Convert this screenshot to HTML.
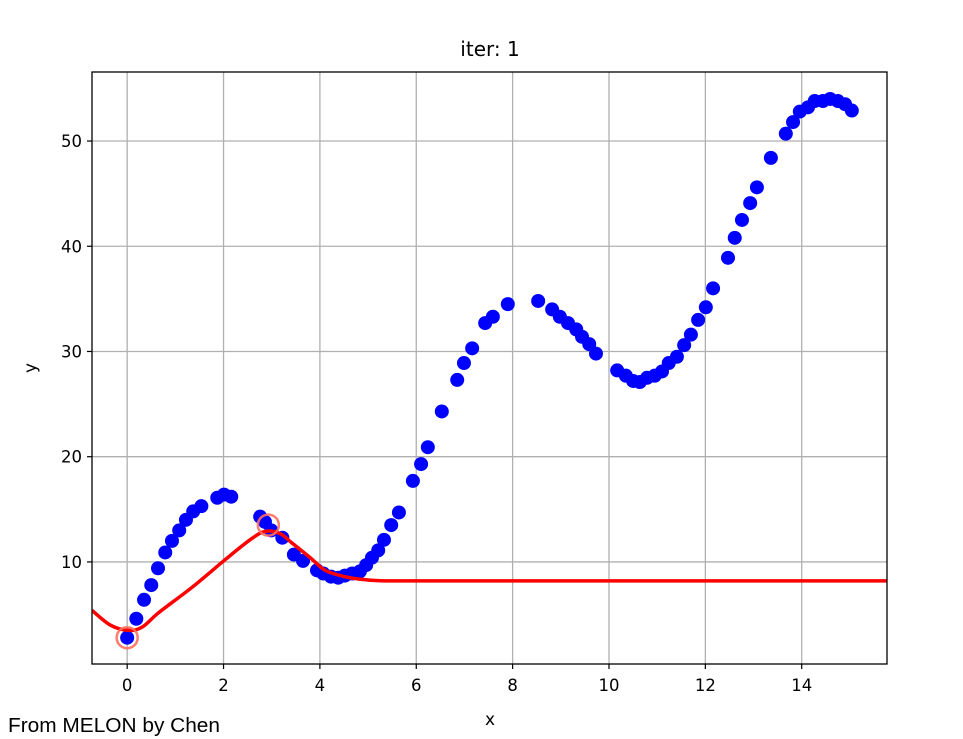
<!DOCTYPE html>
<html><head><meta charset="utf-8"><style>
html,body{margin:0;padding:0;background:#fff;}
svg{display:block;font-family:"DejaVu Sans","Liberation Sans",sans-serif;}
</style></head><body>
<svg id="chart" width="963" height="739" viewBox="0 0 963 739">
<rect x="0" y="0" width="963" height="739" fill="#fff"/>
<text x="490" y="56" text-anchor="middle" font-size="20" fill="#000">iter: 1</text>
<g id="grid"></g>
<g id="marks"></g>
<rect x="92" y="72" width="795" height="592" fill="none" stroke="#000" stroke-width="1.3"/>
<g id="ticks"></g>
<text x="490" y="725" text-anchor="middle" font-size="17">x</text>
<text x="36" y="368" text-anchor="middle" font-size="17" transform="rotate(-90 36 368)">y</text>
<text x="8" y="732" font-size="20" textLength="212" lengthAdjust="spacingAndGlyphs" font-family="Liberation Sans, sans-serif">From MELON by Chen</text>
</svg>
<script>
const xTicks=[0,2,4,6,8,10,12,14];
const yTicks=[10,20,30,40,50];
const obsX=[0,0.19,0.35,0.5,0.64,0.79,0.93,1.08,1.22,1.37,1.54,1.87,2.01,2.16,2.76,2.86,2.99,3.22,3.46,3.65,3.94,4.07,4.23,4.38,4.52,4.67,4.83,4.96,5.08,5.21,5.33,5.48,5.64,5.93,6.1,6.24,6.53,6.85,6.99,7.16,7.43,7.59,7.9,8.53,8.82,8.98,9.15,9.32,9.44,9.59,9.73,10.17,10.35,10.5,10.64,10.79,10.95,11.1,11.24,11.41,11.56,11.7,11.85,12.01,12.16,12.47,12.61,12.76,12.93,13.07,13.36,13.67,13.82,13.96,14.13,14.27,14.44,14.59,14.75,14.9,15.04];
const obsY=[2.8,4.6,6.4,7.8,9.4,10.9,12.0,13.0,14.0,14.8,15.3,16.1,16.4,16.2,14.3,13.8,13.0,12.3,10.7,10.1,9.2,8.9,8.6,8.5,8.7,8.9,9.1,9.7,10.4,11.1,12.1,13.5,14.7,17.7,19.3,20.9,24.3,27.3,28.9,30.3,32.7,33.3,34.5,34.8,34.0,33.3,32.7,32.1,31.4,30.7,29.8,28.2,27.7,27.2,27.1,27.5,27.7,28.1,28.9,29.5,30.6,31.6,33.0,34.2,36.0,38.9,40.8,42.5,44.1,45.6,48.4,50.7,51.8,52.8,53.2,53.8,53.8,54.0,53.8,53.5,52.9];
const meanX=[-0.73,-0.35,0.02,0.31,0.66,1.35,2.03,2.55,2.86,3.17,3.42,3.8,4.11,4.52,4.85,5.2,5.6,6.5,10,15.77];
const meanY=[5.4,4.0,3.5,3.8,5.2,7.6,10.2,12.1,12.9,12.7,11.8,10.4,9.2,8.6,8.35,8.22,8.2,8.2,8.2,8.2];
const sampledX=[0,2.93];
const sampledY=[2.8,13.5];

const X0=-0.73,X1=15.77,Y0=0.3,Y1=56.56,L=92,R=887,T=72,B=664;
const sx=v=>L+(v-X0)/(X1-X0)*(R-L);
const sy=v=>B-(v-Y0)/(Y1-Y0)*(B-T);
const NS='http://www.w3.org/2000/svg';
function mk(t,a,p){const e=document.createElementNS(NS,t);for(const k in a)e.setAttribute(k,a[k]);p.appendChild(e);return e;}
const grid=document.getElementById('grid'),marks=document.getElementById('marks'),ticks=document.getElementById('ticks');
xTicks.forEach(v=>{
  const g=mk('line',{x1:sx(v),x2:sx(v),y1:T,y2:B,stroke:'#b0b0b0','stroke-width':1.3},grid);
  
  
  const t=mk('line',{x1:sx(v),x2:sx(v),y1:B,y2:B+5,stroke:'#000','stroke-width':1.2},ticks);
  
  
  const l=mk('text',{x:sx(v),y:B+27,'text-anchor':'middle','font-size':16.5},ticks);
  l.textContent=v;
  
  
});
yTicks.forEach(v=>{
  const g=mk('line',{x1:L,x2:R,y1:sy(v),y2:sy(v),stroke:'#b0b0b0','stroke-width':1.3},grid);
  
  
  const t=mk('line',{x1:L-5,x2:L,y1:sy(v),y2:sy(v),stroke:'#000','stroke-width':1.2},ticks);
  
  
  const l=mk('text',{x:L-10,y:sy(v)+6,'text-anchor':'end','font-size':16.5},ticks);
  l.textContent=v;
  
  
});
obsX.forEach((v,i)=>{
  const c=mk('circle',{cx:sx(v),cy:sy(obsY[i]),r:7,fill:'#0000ff'},marks);
  
  
});
const pts=meanX.map((v,i)=>[sx(v),sy(meanY[i])]);
let d='M'+pts[0][0]+','+pts[0][1];
for(let i=0;i<pts.length-1;i++){
  const p0=pts[Math.max(0,i-1)],p1=pts[i],p2=pts[i+1],p3=pts[Math.min(pts.length-1,i+2)];
  const c1=[p1[0]+(p2[0]-p0[0])/6,p1[1]+(p2[1]-p0[1])/6];
  const c2=[p2[0]-(p3[0]-p1[0])/6,p2[1]-(p3[1]-p1[1])/6];
  d+=' C'+c1+' '+c2+' '+p2;
}
const clip=mk('clipPath',{id:'pc'},marks);mk('rect',{x:L,y:T,width:R-L,height:B-T},clip);
const path=mk('path',{d:d,fill:'none',stroke:'#ff0000','stroke-width':3.5,'stroke-linejoin':'round','clip-path':'url(#pc)'},marks);


sampledX.forEach((v,i)=>{
  const c=mk('circle',{cx:sx(v),cy:sy(sampledY[i]),r:10.5,fill:'none',stroke:'#ff6f5e','stroke-width':2.5,opacity:0.9},marks);
  
  
});
</script>
</body></html>
